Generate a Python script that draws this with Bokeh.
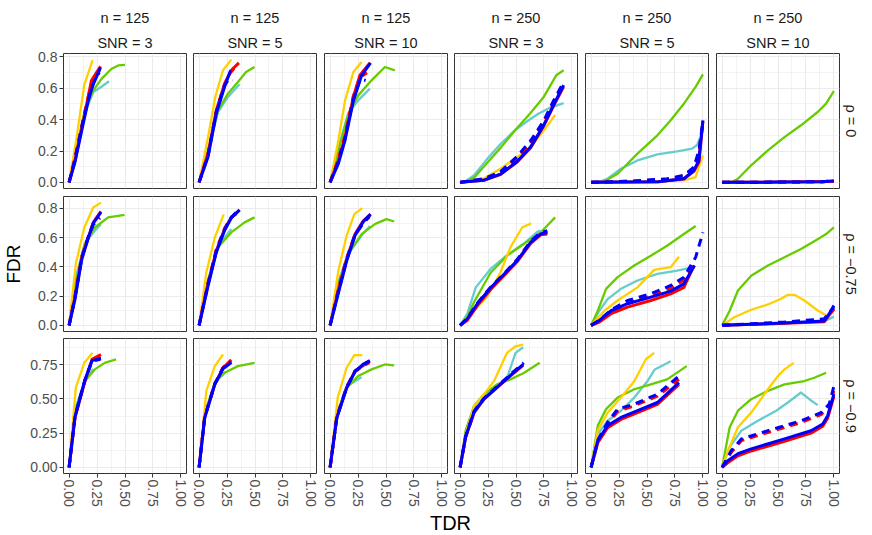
from bokeh.plotting import figure
from bokeh.layouts import gridplot, column
from bokeh.models import Range1d, FixedTicker, Title, NumeralTickFormatter, Label
from bokeh.embed import file_html
from bokeh.resources import INLINE

FONT = "Liberation Sans"

# ---------------- labels ----------------
N_LABELS = ["n = 125", "n = 125", "n = 125", "n = 250", "n = 250", "n = 250"]
SNR_LABELS = ["SNR = 3", "SNR = 5", "SNR = 10", "SNR = 3", "SNR = 5", "SNR = 10"]
RHO_LABELS = ["ρ = 0", "ρ = −0.75", "ρ = −0.9"]
X_TITLE = "TDR"
Y_TITLE = "FDR"
X_TICKS = [0, 0.25, 0.5, 0.75, 1.0]
Y_TICKS = [[0, 0.2, 0.4, 0.6, 0.8], [0, 0.2, 0.4, 0.6, 0.8], [0, 0.25, 0.5, 0.75]]
Y_FORMATS = ["0.0", "0.0", "0.00"]
SERIES = ["turquoise", "green", "gold", "red", "red_dash", "blue", "blue_dash"]

# ---------------- data: (TDR list, FDR list) per series ----------------
# row rho = 0
N125_SNR3_RHO0 = {
    "gold": ([0, 0.068, 0.135, 0.21], [0, 0.289, 0.62, 0.78]),
    "green": ([0, 0.053, 0.14, 0.217, 0.29, 0.38, 0.44, 0.5], [0, 0.16, 0.46, 0.587, 0.66, 0.725, 0.746, 0.75]),
    "turquoise": ([0, 0.053, 0.14, 0.217, 0.29, 0.357], [0, 0.18, 0.44, 0.577, 0.61, 0.645]),
    "red": ([0, 0.053, 0.128, 0.2, 0.245, 0.282], [0, 0.14, 0.396, 0.65, 0.70, 0.74]),
    "red_dash": ([0, 0.05, 0.125, 0.195, 0.24, 0.275], [0, 0.15, 0.40, 0.62, 0.68, 0.72]),
    "blue": ([0, 0.053, 0.128, 0.172, 0.217, 0.25, 0.28], [0, 0.13, 0.38, 0.523, 0.63, 0.68, 0.732]),
    "blue_dash": ([0, 0.05, 0.125, 0.19, 0.235, 0.27], [0, 0.14, 0.39, 0.58, 0.66, 0.70]),
}
N125_SNR5_RHO0 = {
    "gold": ([0, 0.08, 0.145, 0.214, 0.288], [0, 0.29, 0.545, 0.715, 0.783]),
    "green": ([0, 0.08, 0.17, 0.258, 0.347, 0.42, 0.496], [0, 0.2, 0.46, 0.566, 0.64, 0.704, 0.736]),
    "turquoise": ([0, 0.08, 0.17, 0.258, 0.362], [0, 0.21, 0.45, 0.545, 0.626]),
    "red": ([0, 0.08, 0.154, 0.228, 0.288, 0.356], [0, 0.183, 0.46, 0.63, 0.715, 0.762]),
    "red_dash": ([0, 0.08, 0.154, 0.225, 0.28, 0.33], [0, 0.18, 0.45, 0.62, 0.70, 0.74]),
    "blue": ([0, 0.08, 0.154, 0.228, 0.282], [0, 0.162, 0.44, 0.61, 0.715]),
    "blue_dash": ([0, 0.08, 0.154, 0.228, 0.27, 0.30], [0, 0.17, 0.45, 0.62, 0.66, 0.65]),
}
N125_SNR10_RHO0 = {
    "gold": ([0, 0.074, 0.134, 0.208, 0.282], [0, 0.268, 0.523, 0.704, 0.768]),
    "green": ([0, 0.074, 0.163, 0.252, 0.371, 0.49, 0.579], [0, 0.2, 0.438, 0.555, 0.651, 0.736, 0.715]),
    "turquoise": ([0, 0.074, 0.163, 0.252, 0.356], [0, 0.22, 0.44, 0.523, 0.598]),
    "red": ([0, 0.074, 0.134, 0.208, 0.267, 0.356], [0, 0.14, 0.289, 0.545, 0.683, 0.762]),
    "red_dash": ([0, 0.074, 0.134, 0.208, 0.267, 0.33], [0, 0.15, 0.30, 0.55, 0.67, 0.70]),
    "blue": ([0, 0.074, 0.134, 0.208, 0.282, 0.362], [0, 0.12, 0.27, 0.52, 0.683, 0.762]),
    "blue_dash": ([0, 0.074, 0.134, 0.208, 0.27, 0.318], [0, 0.13, 0.28, 0.53, 0.66, 0.65]),
}
N250_SNR3_RHO0 = {
    "gold": ([0, 0.21, 0.36, 0.51, 0.63, 0.748, 0.85], [0, 0.023, 0.087, 0.16, 0.225, 0.33, 0.43]),
    "green": ([0.036, 0.125, 0.243, 0.362, 0.496, 0.63, 0.748, 0.86, 0.926], [0, 0.03, 0.125, 0.22, 0.336, 0.443, 0.545, 0.683, 0.715]),
    "turquoise": ([0.036, 0.125, 0.243, 0.362, 0.496, 0.6, 0.7, 0.807, 0.926], [0, 0.045, 0.15, 0.245, 0.336, 0.39, 0.438, 0.477, 0.506]),
    "red": ([0, 0.21, 0.36, 0.51, 0.63, 0.748, 0.837, 0.926], [0, 0.013, 0.05, 0.13, 0.22, 0.36, 0.49, 0.61]),
    "red_dash": ([0, 0.21, 0.36, 0.51, 0.63, 0.75, 0.837, 0.926], [0, 0.02, 0.062, 0.155, 0.25, 0.385, 0.51, 0.625]),
    "blue": ([0, 0.21, 0.36, 0.51, 0.63, 0.748, 0.837, 0.926], [0, 0.013, 0.052, 0.133, 0.225, 0.365, 0.495, 0.62]),
    "blue_dash": ([0, 0.21, 0.36, 0.51, 0.63, 0.75, 0.837, 0.926], [0, 0.023, 0.066, 0.166, 0.265, 0.396, 0.523, 0.64]),
}
N250_SNR5_RHO0 = {
    "gold": ([0, 0.53, 0.83, 0.935, 0.964, 1.0], [0, 0.004, 0.013, 0.034, 0.098, 0.172]),
    "green": ([0.104, 0.237, 0.415, 0.593, 0.712, 0.83, 0.935, 1.0], [0, 0.055, 0.183, 0.30, 0.396, 0.502, 0.609, 0.689]),
    "turquoise": ([0.06, 0.148, 0.267, 0.415, 0.593, 0.77, 0.905, 0.95, 0.97], [0, 0.023, 0.087, 0.14, 0.179, 0.198, 0.215, 0.24, 0.28]),
    "red": ([0, 0.6, 0.83, 0.92, 0.964, 1.0], [0, 0.004, 0.023, 0.07, 0.13, 0.39]),
    "red_dash": ([0, 0.386, 0.68, 0.83, 0.92, 0.964, 1.0], [0, 0.008, 0.02, 0.04, 0.09, 0.19, 0.38]),
    "blue": ([0, 0.6, 0.83, 0.92, 0.964, 1.0], [0, 0.004, 0.023, 0.077, 0.14, 0.396]),
    "blue_dash": ([0, 0.386, 0.68, 0.83, 0.92, 0.964, 1.0], [0, 0.009, 0.023, 0.045, 0.098, 0.204, 0.385]),
}
N250_SNR10_RHO0 = {
    "gold": ([0, 0.5, 1.0], [0, 0.002, 0.005]),
    "green": ([0.083, 0.142, 0.26, 0.41, 0.558, 0.706, 0.855, 0.93, 1.0], [0, 0.023, 0.109, 0.204, 0.289, 0.364, 0.449, 0.502, 0.583]),
    "turquoise": ([0, 0.5, 1.0], [0, 0.002, 0.006]),
    "red": ([0, 0.5, 1.0], [0, 0.002, 0.006]),
    "red_dash": ([0, 0.5, 0.9, 1.0], [0, 0.002, 0.004, 0.009]),
    "blue": ([0, 0.5, 0.9, 1.0], [0, 0.002, 0.004, 0.01]),
    "blue_dash": ([0, 0.5, 0.9, 1.0], [0, 0.002, 0.004, 0.01]),
}
# row rho = -0.75
N125_SNR3_RHO075 = {
    "gold": ([0, 0.06, 0.136, 0.216, 0.285], [0, 0.42, 0.67, 0.807, 0.84]),
    "green": ([0, 0.053, 0.14, 0.23, 0.35, 0.496], [0, 0.28, 0.557, 0.67, 0.739, 0.757]),
    "turquoise": ([0, 0.053, 0.14, 0.23, 0.285], [0, 0.307, 0.56, 0.648, 0.693]),
    "red": ([0, 0.053, 0.113, 0.172, 0.217, 0.285], [0, 0.193, 0.466, 0.602, 0.705, 0.78]),
    "red_dash": ([0, 0.053, 0.113, 0.172, 0.217, 0.27], [0, 0.2, 0.47, 0.61, 0.70, 0.74]),
    "blue": ([0, 0.053, 0.113, 0.172, 0.217, 0.285], [0, 0.18, 0.45, 0.60, 0.70, 0.775]),
    "blue_dash": ([0, 0.053, 0.113, 0.172, 0.217, 0.275], [0, 0.19, 0.46, 0.605, 0.69, 0.735]),
}
N125_SNR5_RHO075 = {
    "gold": ([0, 0.065, 0.14, 0.22], [0, 0.364, 0.6, 0.76]),
    "green": ([0, 0.08, 0.17, 0.288, 0.407, 0.496], [0, 0.307, 0.534, 0.636, 0.705, 0.739]),
    "turquoise": ([0, 0.08, 0.17, 0.288], [0, 0.31, 0.54, 0.66]),
    "red": ([0, 0.08, 0.154, 0.228, 0.288, 0.362], [0, 0.284, 0.511, 0.66, 0.739, 0.789]),
    "red_dash": ([0, 0.08, 0.154, 0.228, 0.288, 0.36], [0, 0.29, 0.52, 0.665, 0.74, 0.78]),
    "blue": ([0, 0.08, 0.154, 0.228, 0.288, 0.362], [0, 0.27, 0.50, 0.65, 0.735, 0.79]),
    "blue_dash": ([0, 0.08, 0.154, 0.228, 0.288, 0.365], [0, 0.28, 0.51, 0.655, 0.74, 0.80]),
}
N125_SNR10_RHO075 = {
    "gold": ([0, 0.074, 0.148, 0.217, 0.288], [0, 0.375, 0.614, 0.761, 0.802]),
    "green": ([0, 0.074, 0.163, 0.282, 0.4, 0.504, 0.573], [0, 0.284, 0.489, 0.625, 0.693, 0.727, 0.711]),
    "turquoise": ([0, 0.074, 0.163, 0.282, 0.356], [0, 0.3, 0.49, 0.615, 0.68]),
    "red": ([0, 0.074, 0.148, 0.223, 0.297, 0.362], [0, 0.239, 0.455, 0.625, 0.716, 0.761]),
    "red_dash": ([0, 0.074, 0.148, 0.223, 0.297, 0.35], [0, 0.25, 0.46, 0.62, 0.70, 0.74]),
    "blue": ([0, 0.074, 0.148, 0.223, 0.297, 0.362], [0, 0.22, 0.44, 0.615, 0.71, 0.761]),
    "blue_dash": ([0, 0.074, 0.148, 0.223, 0.297, 0.355], [0, 0.23, 0.45, 0.62, 0.70, 0.75]),
}
N250_SNR3_RHO075 = {
    "gold": ([0, 0.125, 0.243, 0.36, 0.45, 0.555, 0.635], [0, 0.1, 0.2, 0.36, 0.534, 0.67, 0.698]),
    "green": ([0, 0.065, 0.125, 0.273, 0.42, 0.57, 0.72, 0.85], [0, 0.06, 0.16, 0.36, 0.477, 0.557, 0.636, 0.739]),
    "turquoise": ([0, 0.065, 0.14, 0.273, 0.42, 0.57, 0.69, 0.72], [0, 0.08, 0.26, 0.386, 0.48, 0.56, 0.64, 0.648]),
    "red": ([0, 0.065, 0.154, 0.273, 0.39, 0.51, 0.63, 0.72, 0.78], [0, 0.035, 0.135, 0.245, 0.338, 0.435, 0.56, 0.62, 0.625]),
    "red_dash": ([0, 0.065, 0.154, 0.273, 0.39, 0.51, 0.63, 0.72, 0.78], [0, 0.04, 0.145, 0.255, 0.345, 0.445, 0.57, 0.63, 0.64]),
    "blue": ([0, 0.065, 0.154, 0.273, 0.39, 0.51, 0.63, 0.72, 0.78], [0, 0.045, 0.148, 0.257, 0.348, 0.443, 0.568, 0.625, 0.636]),
    "blue_dash": ([0, 0.065, 0.154, 0.273, 0.39, 0.51, 0.63, 0.72, 0.78], [0, 0.05, 0.152, 0.262, 0.352, 0.45, 0.575, 0.635, 0.648]),
}
N250_SNR5_RHO075 = {
    "gold": ([0, 0.119, 0.237, 0.415, 0.564, 0.712, 0.786], [0, 0.1, 0.17, 0.26, 0.38, 0.398, 0.47]),
    "green": ([0, 0.06, 0.134, 0.237, 0.386, 0.534, 0.68, 0.83, 0.935], [0, 0.1, 0.25, 0.33, 0.41, 0.477, 0.545, 0.625, 0.68]),
    "turquoise": ([0, 0.074, 0.148, 0.267, 0.415, 0.593, 0.77, 0.866, 0.92], [0, 0.1, 0.18, 0.25, 0.307, 0.352, 0.375, 0.39, 0.398]),
    "red": ([0, 0.074, 0.178, 0.326, 0.534, 0.712, 0.83, 0.92], [0, 0.023, 0.08, 0.125, 0.17, 0.216, 0.26, 0.41]),
    "red_dash": ([0, 0.074, 0.178, 0.326, 0.534, 0.712, 0.83, 0.935], [0, 0.03, 0.09, 0.15, 0.2, 0.255, 0.31, 0.42]),
    "blue": ([0, 0.074, 0.178, 0.326, 0.534, 0.712, 0.83, 0.925], [0, 0.034, 0.1, 0.148, 0.193, 0.234, 0.284, 0.41]),
    "blue_dash": ([0, 0.074, 0.178, 0.326, 0.534, 0.712, 0.83, 0.935, 1.0], [0, 0.035, 0.105, 0.17, 0.216, 0.273, 0.33, 0.466, 0.636]),
}
N250_SNR10_RHO075 = {
    "gold": ([0, 0.113, 0.26, 0.41, 0.528, 0.588, 0.647, 0.736, 0.855, 0.93], [0, 0.057, 0.107, 0.143, 0.182, 0.209, 0.209, 0.17, 0.102, 0.07]),
    "green": ([0, 0.068, 0.142, 0.26, 0.41, 0.558, 0.706, 0.855, 0.93, 1.0], [0, 0.1, 0.239, 0.34, 0.41, 0.466, 0.523, 0.59, 0.625, 0.67]),
    "turquoise": ([0, 0.5, 0.92, 1.0], [0, 0.01, 0.03, 0.06]),
    "red": ([0, 0.5, 0.914, 0.958, 1.0], [0, 0.012, 0.025, 0.07, 0.11]),
    "red_dash": ([0, 0.26, 0.558, 0.914, 1.0], [0, 0.008, 0.018, 0.04, 0.115]),
    "blue": ([0, 0.5, 0.914, 0.958, 1.0], [0, 0.015, 0.03, 0.08, 0.136]),
    "blue_dash": ([0, 0.26, 0.558, 0.914, 1.0], [0, 0.011, 0.023, 0.045, 0.125]),
}
# row rho = -0.9
N125_SNR3_RHO09 = {
    "gold": ([0, 0.06, 0.136, 0.21], [0, 0.583, 0.764, 0.837]),
    "green": ([0, 0.053, 0.142, 0.23, 0.318, 0.42], [0, 0.414, 0.631, 0.716, 0.764, 0.789]),
    "turquoise": ([0, 0.053, 0.142, 0.217], [0, 0.42, 0.64, 0.72]),
    "red": ([0, 0.053, 0.142, 0.205, 0.285], [0, 0.365, 0.631, 0.789, 0.825]),
    "red_dash": ([0, 0.053, 0.142, 0.205, 0.28], [0, 0.37, 0.635, 0.78, 0.81]),
    "blue": ([0, 0.053, 0.142, 0.205, 0.285], [0, 0.37, 0.64, 0.78, 0.796]),
    "blue_dash": ([0, 0.053, 0.142, 0.205, 0.28], [0, 0.375, 0.64, 0.775, 0.79]),
}
N125_SNR5_RHO09 = {
    "gold": ([0, 0.065, 0.14, 0.214], [0, 0.559, 0.74, 0.825]),
    "green": ([0, 0.05, 0.14, 0.228, 0.347, 0.496], [0, 0.39, 0.62, 0.692, 0.74, 0.764]),
    "turquoise": ([0, 0.05, 0.14, 0.24], [0, 0.39, 0.62, 0.70]),
    "red": ([0, 0.05, 0.14, 0.214, 0.288], [0, 0.365, 0.607, 0.728, 0.785]),
    "red_dash": ([0, 0.05, 0.14, 0.214, 0.285], [0, 0.37, 0.61, 0.73, 0.78]),
    "blue": ([0, 0.05, 0.14, 0.214, 0.288], [0, 0.36, 0.605, 0.72, 0.766]),
    "blue_dash": ([0, 0.05, 0.14, 0.214, 0.285], [0, 0.365, 0.61, 0.725, 0.772]),
}
N125_SNR10_RHO09 = {
    "gold": ([0, 0.068, 0.148, 0.217, 0.288], [0, 0.51, 0.728, 0.82, 0.82]),
    "green": ([0, 0.06, 0.148, 0.252, 0.371, 0.49, 0.573], [0, 0.39, 0.583, 0.668, 0.716, 0.752, 0.745]),
    "turquoise": ([0, 0.06, 0.148, 0.282], [0, 0.38, 0.59, 0.66]),
    "red": ([0, 0.06, 0.148, 0.223, 0.297, 0.356], [0, 0.365, 0.583, 0.704, 0.745, 0.775]),
    "red_dash": ([0, 0.06, 0.148, 0.223, 0.297, 0.35], [0, 0.37, 0.59, 0.70, 0.74, 0.765]),
    "blue": ([0, 0.06, 0.148, 0.223, 0.297, 0.356], [0, 0.36, 0.58, 0.70, 0.755, 0.78]),
    "blue_dash": ([0, 0.06, 0.148, 0.223, 0.297, 0.35], [0, 0.365, 0.585, 0.705, 0.75, 0.775]),
}
N250_SNR3_RHO09 = {
    "gold": ([0, 0.05, 0.125, 0.214, 0.303, 0.42, 0.496, 0.564], [0, 0.244, 0.45, 0.535, 0.63, 0.837, 0.885, 0.897]),
    "green": ([0, 0.05, 0.125, 0.214, 0.33, 0.45, 0.57, 0.712], [0, 0.27, 0.45, 0.535, 0.607, 0.643, 0.69, 0.764]),
    "turquoise": ([0, 0.05, 0.125, 0.214, 0.33, 0.42, 0.496, 0.564], [0, 0.25, 0.44, 0.525, 0.595, 0.655, 0.837, 0.878]),
    "red": ([0, 0.05, 0.125, 0.214, 0.33, 0.45, 0.564], [0, 0.22, 0.40, 0.498, 0.583, 0.668, 0.745]),
    "red_dash": ([0, 0.05, 0.125, 0.214, 0.33, 0.45, 0.564], [0, 0.222, 0.402, 0.5, 0.586, 0.672, 0.757]),
    "blue": ([0, 0.05, 0.125, 0.214, 0.33, 0.45, 0.564], [0, 0.225, 0.405, 0.50, 0.585, 0.672, 0.752]),
    "blue_dash": ([0, 0.05, 0.125, 0.214, 0.33, 0.45, 0.57], [0, 0.23, 0.41, 0.505, 0.59, 0.68, 0.764]),
}
N250_SNR5_RHO09 = {
    "gold": ([0, 0.06, 0.148, 0.267, 0.386, 0.49, 0.564], [0, 0.27, 0.40, 0.51, 0.63, 0.79, 0.837]),
    "green": ([0, 0.06, 0.134, 0.237, 0.386, 0.534, 0.68, 0.855], [0, 0.305, 0.426, 0.51, 0.571, 0.607, 0.643, 0.74]),
    "turquoise": ([0, 0.06, 0.148, 0.267, 0.386, 0.504, 0.57, 0.712], [0, 0.244, 0.341, 0.414, 0.51, 0.63, 0.716, 0.776]),
    "red": ([0, 0.06, 0.148, 0.267, 0.415, 0.593, 0.786], [0, 0.18, 0.29, 0.35, 0.40, 0.46, 0.607]),
    "red_dash": ([0, 0.06, 0.148, 0.237, 0.386, 0.593, 0.786], [0, 0.19, 0.315, 0.41, 0.45, 0.52, 0.643]),
    "blue": ([0, 0.06, 0.148, 0.267, 0.415, 0.593, 0.786], [0, 0.196, 0.305, 0.365, 0.414, 0.474, 0.62]),
    "blue_dash": ([0, 0.06, 0.148, 0.237, 0.386, 0.593, 0.786], [0, 0.2, 0.33, 0.426, 0.462, 0.535, 0.668]),
}
N250_SNR10_RHO09 = {
    "gold": ([0, 0.053, 0.142, 0.26, 0.41, 0.5, 0.558, 0.64], [0, 0.123, 0.293, 0.40, 0.571, 0.668, 0.716, 0.764]),
    "green": ([0, 0.068, 0.142, 0.26, 0.41, 0.558, 0.736, 0.825, 0.93], [0, 0.293, 0.414, 0.498, 0.559, 0.607, 0.631, 0.655, 0.692]),
    "turquoise": ([0, 0.068, 0.172, 0.32, 0.484, 0.588, 0.706, 0.78, 0.855], [0, 0.148, 0.268, 0.341, 0.414, 0.474, 0.547, 0.498, 0.455]),
    "red": ([0, 0.053, 0.142, 0.26, 0.558, 0.795, 0.9, 0.944, 1.0], [0, 0.035, 0.085, 0.12, 0.19, 0.25, 0.30, 0.36, 0.52]),
    "red_dash": ([0, 0.083, 0.172, 0.41, 0.706, 0.885, 0.958, 1.0], [0, 0.11, 0.195, 0.255, 0.328, 0.385, 0.445, 0.56]),
    "blue": ([0, 0.053, 0.142, 0.26, 0.558, 0.795, 0.9, 0.944, 1.0], [0, 0.05, 0.1, 0.135, 0.208, 0.268, 0.317, 0.377, 0.535]),
    "blue_dash": ([0, 0.083, 0.172, 0.41, 0.706, 0.885, 0.958, 1.0], [0, 0.123, 0.208, 0.268, 0.341, 0.40, 0.462, 0.595]),
}

PANELS = [
    [N125_SNR3_RHO0, N125_SNR5_RHO0, N125_SNR10_RHO0, N250_SNR3_RHO0, N250_SNR5_RHO0, N250_SNR10_RHO0],
    [N125_SNR3_RHO075, N125_SNR5_RHO075, N125_SNR10_RHO075, N250_SNR3_RHO075, N250_SNR5_RHO075, N250_SNR10_RHO075],
    [N125_SNR3_RHO09, N125_SNR5_RHO09, N125_SNR10_RHO09, N250_SNR3_RHO09, N250_SNR5_RHO09, N250_SNR10_RHO09],
]

# ---------------- styles ----------------
STYLE = {
    "turquoise": dict(color="#66CCCC", dash="solid", width=2.3),
    "green": dict(color="#66CC00", dash="solid", width=2.3),
    "gold": dict(color="#FFD000", dash="solid", width=2.3),
    "red": dict(color="#FF0000", dash="solid", width=3.0),
    "red_dash": dict(color="#FF0000", dash="8 6", width=3.0),
    "blue": dict(color="#0000FF", dash="solid", width=3.0),
    "blue_dash": dict(color="#0000FF", dash="8 6", width=3.0),
}
GRID_COLOR = "#EBEBEB"
TICK_COLOR = "#4D4D4D"
STRIP_COLOR = "#1A1A1A"
BORDER_COLOR = "#333333"


def expand(lo, hi, f=0.05):
    s = hi - lo
    return lo - f * s, hi + f * s


def minor_of(ticks, lo, hi):
    step = ticks[1] - ticks[0]
    cand = [t - step / 2 for t in ticks] + [ticks[-1] + step / 2]
    return [m for m in cand if lo <= m <= hi]


all_x = [v for row in PANELS for pan in row for s in pan.values() for v in s[0]]
XR = expand(min(all_x), max(all_x))

FRAME_W, FRAME_H = 123, 135
LEFT_B = [62, 3, 4, 3, 4, 4]
RIGHT_B = [4, 4, 4, 4, 4, 34]
TOP_B = [53, 4, 4]
BOTTOM_B = [4, 3, 34]

grid_rows = []
for r in range(3):
    ys = [v for pan in PANELS[r] for s in pan.values() for v in s[1]]
    YR = expand(min(ys), max(ys))
    row_figs = []
    for c in range(6):
        p = figure(frame_width=FRAME_W, frame_height=FRAME_H,
                   x_range=Range1d(*XR), y_range=Range1d(*YR),
                   x_axis_location="below" if r == 2 else None,
                   y_axis_location="left" if c == 0 else None,
                   min_border_left=LEFT_B[c], min_border_right=RIGHT_B[c],
                   min_border_top=TOP_B[r], min_border_bottom=BOTTOM_B[r],
                   output_backend="svg", toolbar_location=None, title=None,
                   background_fill_color="white", border_fill_color="white",
                   outline_line_color=BORDER_COLOR, outline_line_width=1)
        p.xgrid.ticker = FixedTicker(ticks=X_TICKS, minor_ticks=minor_of(X_TICKS, *XR))
        p.ygrid.ticker = FixedTicker(ticks=Y_TICKS[r], minor_ticks=minor_of(Y_TICKS[r], *YR))
        for g in (p.xgrid[0], p.ygrid[0]):
            g.grid_line_color = GRID_COLOR
            g.grid_line_width = 1.1
            g.minor_grid_line_color = GRID_COLOR
            g.minor_grid_line_width = 0.6

        axes = []
        if r == 2:
            ax = p.xaxis[0]
            ax.ticker = FixedTicker(ticks=X_TICKS)
            ax.formatter = NumeralTickFormatter(format="0.00")
            ax.major_label_orientation = "vertical"
            axes.append(ax)
        if c == 0:
            ax = p.yaxis[0]
            ax.ticker = FixedTicker(ticks=Y_TICKS[r])
            ax.formatter = NumeralTickFormatter(format=Y_FORMATS[r])
            axes.append(ax)
            if r == 1:
                ax.axis_label = Y_TITLE
                ax.axis_label_text_font = FONT
                ax.axis_label_text_font_size = "19px"
                ax.axis_label_text_font_style = "normal"
                ax.axis_label_text_color = "black"
                ax.axis_label_standoff = 11
        for ax in axes:
            ax.axis_line_color = None
            ax.major_tick_line_color = BORDER_COLOR
            ax.major_tick_in = 0
            ax.major_tick_out = 4
            ax.minor_tick_line_color = None
            ax.major_label_standoff = 2
            ax.major_label_text_font = FONT
            ax.major_label_text_font_size = "14px"
            ax.major_label_text_color = TICK_COLOR

        pan = PANELS[r][c]
        for name in SERIES:
            xs, ys_ = pan[name]
            st = STYLE[name]
            p.line(xs, ys_, line_color=st["color"], line_width=st["width"],
                   line_dash=st["dash"], line_join="round")

        if r == 0:
            p.add_layout(Title(text=SNR_LABELS[c], align="center", text_font=FONT,
                               text_font_size="14.5px", text_font_style="normal",
                               text_color=STRIP_COLOR, standoff=6), "above")
            p.add_layout(Title(text=N_LABELS[c], align="center", text_font=FONT,
                               text_font_size="14.5px", text_font_style="normal",
                               text_color=STRIP_COLOR, standoff=7), "above")
        if c == 5:
            p.add_layout(Title(text=RHO_LABELS[r], align="center", text_font=FONT,
                               text_font_size="14.5px", text_font_style="normal",
                               text_color=STRIP_COLOR, standoff=6), "right")
        row_figs.append(p)
    grid_rows.append(row_figs)

grid = gridplot(grid_rows, toolbar_location=None)

total_frame = sum(LEFT_B) + sum(RIGHT_B) + 6 * FRAME_W - LEFT_B[0] - RIGHT_B[-1]
tdr = figure(frame_width=total_frame, frame_height=27,
             x_range=Range1d(0, 1), y_range=Range1d(0, 1),
             x_axis_location=None, y_axis_location=None,
             min_border_left=LEFT_B[0], min_border_right=RIGHT_B[-1], min_border_top=0, min_border_bottom=0,
             output_backend="svg", toolbar_location=None, title=None,
             outline_line_color=None, background_fill_color="white", border_fill_color="white")
tdr.xgrid.visible = False
tdr.ygrid.visible = False
tdr.add_layout(Label(x=0.5, y=0.5, text=X_TITLE, text_align="center", text_baseline="middle",
                     text_font=FONT, text_font_size="20px", text_color="black"))

layout = column(grid, tdr)
open("out.html", "w").write(file_html(layout, INLINE))
